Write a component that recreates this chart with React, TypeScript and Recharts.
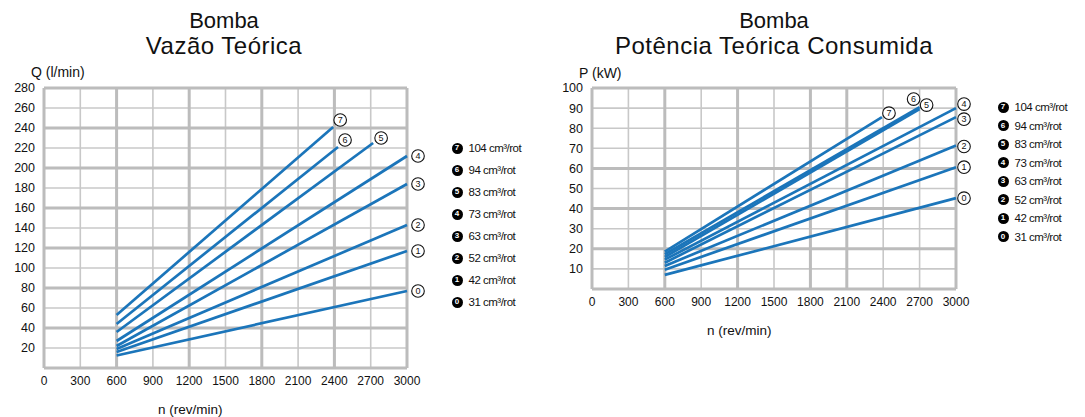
import React from 'react';
import { LineChart, Line, XAxis, YAxis, CartesianGrid } from 'recharts';

// curve ids and pump displacement (cm³/rot)
const curveIds = ['7', '6', '5', '4', '3', '2', '1', '0'];
const displacements = ['104', '94', '83', '73', '63', '52', '42', '31'];

const rpmTicks = [0, 300, 600, 900, 1200, 1500, 1800, 2100, 2400, 2700, 3000];
const flowTicks = [20, 40, 60, 80, 100, 120, 140, 160, 180, 200, 220, 240, 260, 280];
const powerTicks = [10, 20, 30, 40, 50, 60, 70, 80, 90, 100];

const startRpm = 600;

// Vazão teórica Q (l/min)
const flowStart = [53, 44, 36, 27, 22, 19, 16, 12.5];
const flowEndRpm = [2390, 2430, 2720, 3000, 3000, 3000, 3000, 3000];
const flowEnd = [241, 221, 225, 212, 184, 143, 117, 77];

// Potência teórica P (kW)
const powerStart = [18.6, 17.3, 15.9, 14.6, 13.1, 11.5, 9.6, 7.0];
const powerEndRpm = [2390, 2700, 2700, 3000, 3000, 3000, 3000, 3000];
const powerEnd = [85.5, 90.5, 89.5, 90, 85.5, 71.4, 60.6, 45.2];

const BLUE = '#1b75ba';
const FONT = '"Liberation Sans", Arial, sans-serif';

// where the little circled number sits relative to the end of each curve
const flowMarkOffsets = [[7, -7], [7, -7], [8, -5], [11, 0], [11, 0], [11, 0], [11, 0], [11, 0]];
const powerMarkOffsets = [[7, -4], [-6, -8], [7, -4], [8, -4], [8, 2], [8, 1], [8, 0], [8, 0]];

const buildSeries = (start: number[], endRpm: number[], end: number[]) =>
  curveIds.map((id, i) => ({
    id,
    data: [
      { n: startRpm, v: start[i] },
      { n: endRpm[i], v: end[i] },
    ],
  }));

const flowSeries = buildSeries(flowStart, flowEndRpm, flowEnd);
const powerSeries = buildSeries(powerStart, powerEndRpm, powerEnd);

type PanelProps = {
  series: { id: string; data: { n: number; v: number }[] }[];
  offsets: number[][];
  yMax: number;
  yTicks: number[];
  yThick: number[];
  xThick: number[];
  left: number;
  width: number;
  marginRight: number;
  marginBottom: number;
};

function Panel({ series, offsets, yMax, yTicks, yThick, xThick, left, width, marginRight, marginBottom }: PanelProps) {
  return (
    <div style={{ position: 'absolute', left, top: 0 }}>
      <LineChart width={width} height={417} margin={{ top: 88, right: marginRight, bottom: marginBottom, left: 0 }}>
        <CartesianGrid stroke="#c8c8c8" strokeWidth={1.6} horizontalValues={[0, ...yTicks]} verticalValues={rpmTicks} />
        <CartesianGrid stroke="#bcbcbc" strokeWidth={3} horizontalValues={yThick} verticalValues={xThick} />
        <XAxis
          type="number"
          dataKey="n"
          domain={[0, 3000]}
          ticks={rpmTicks}
          interval={0}
          axisLine={false}
          tickLine={false}
          height={30}
          tick={{ fill: '#111', fontSize: 12, fontFamily: FONT }}
        />
        <YAxis
          type="number"
          domain={[0, yMax]}
          ticks={yTicks}
          interval={0}
          width={44}
          axisLine={false}
          tickLine={false}
          tickMargin={3}
          tick={{ fill: '#111', fontSize: 12.5, fontFamily: FONT }}
        />
        {series.map((s, i) => (
          <Line
            key={s.id}
            data={s.data}
            dataKey="v"
            stroke={BLUE}
            strokeWidth={2.7}
            isAnimationActive={false}
            activeDot={false}
            dot={(p: any) => {
              if (p.index !== s.data.length - 1) return <g key={`${s.id}-${p.index}`} />;
              const cx = p.cx + offsets[i][0];
              const cy = p.cy + offsets[i][1];
              return (
                <g key={`${s.id}-${p.index}`}>
                  <circle cx={cx} cy={cy} r={6.3} fill="#fff" stroke="#111" strokeWidth={1.1} />
                  <text x={cx} y={cy + 3} textAnchor="middle" fontSize={9} fontFamily={FONT} fill="#111">
                    {s.id}
                  </text>
                </g>
              );
            }}
          />
        ))}
      </LineChart>
    </div>
  );
}

function CurveLegend({ x, y, step }: { x: number; y: number; step: number }) {
  return (
    <>
      {curveIds.map((id, i) => (
        <div
          key={id}
          style={{
            position: 'absolute',
            left: x - 5.5,
            top: y + i * step - 7,
            height: 14,
            display: 'flex',
            alignItems: 'center',
            fontFamily: FONT,
            whiteSpace: 'nowrap',
          }}
        >
          <span
            style={{
              width: 11,
              height: 11,
              borderRadius: '50%',
              background: '#000',
              color: '#fff',
              fontSize: 8,
              fontWeight: 'bold',
              display: 'flex',
              alignItems: 'center',
              justifyContent: 'center',
              lineHeight: 1,
            }}
          >
            {id}
          </span>
          <span style={{ marginLeft: 6, fontSize: 11.5, letterSpacing: -0.5, color: '#111' }}>
            {displacements[i]} cm³/rot
          </span>
        </div>
      ))}
    </>
  );
}

const textAt = (left: number, top: number, size: number): React.CSSProperties => ({
  position: 'absolute',
  left,
  top,
  fontSize: size,
  fontFamily: FONT,
  color: '#111',
  whiteSpace: 'nowrap',
  lineHeight: `${size + 2}px`,
});

const titleLine = (center: number, top: number, size: number, spacing: number): React.CSSProperties => ({
  position: 'absolute',
  left: center - 250,
  top,
  width: 500,
  textAlign: 'center',
  fontFamily: FONT,
  fontSize: size,
  letterSpacing: spacing,
  lineHeight: `${size + 2}px`,
  color: '#111',
  whiteSpace: 'nowrap',
});

export default function App() {
  return (
    <div style={{ position: 'absolute', left: 0, top: 0, width: 1085, height: 417, background: '#fff', overflow: 'hidden' }}>
      <div style={titleLine(224, 9, 22, 0)}>Bomba</div>
      <div style={titleLine(224, 33, 24, 0.5)}>Vazão Teórica</div>
      <div style={titleLine(774, 9, 22, 0)}>Bomba</div>
      <div style={titleLine(774, 33, 24, 0.5)}>Potência Teórica Consumida</div>

      <div style={textAt(31, 64, 14)}>Q (l/min)</div>
      <div style={textAt(579, 65, 14)}>P (kW)</div>
      <div style={textAt(158, 402, 13.5)}>n (rev/min)</div>
      <div style={textAt(707, 323, 13.5)}>n (rev/min)</div>

      <Panel
        series={flowSeries}
        offsets={flowMarkOffsets}
        yMax={280}
        yTicks={flowTicks}
        yThick={[0, 40, 80, 120, 160, 200, 240, 280]}
        xThick={[0, 600, 1200, 1800, 2400, 3000]}
        left={0}
        width={560}
        marginRight={153}
        marginBottom={19}
      />
      <Panel
        series={powerSeries}
        offsets={powerMarkOffsets}
        yMax={100}
        yTicks={powerTicks}
        yThick={[0, 20, 40, 60, 100]}
        xThick={[0, 600, 1200, 1800, 2100, 3000]}
        left={548}
        width={537}
        marginRight={129}
        marginBottom={98}
      />

      <CurveLegend x={457} y={148} step={22} />
      <CurveLegend x={1003} y={107} step={18.5} />
    </div>
  );
}
